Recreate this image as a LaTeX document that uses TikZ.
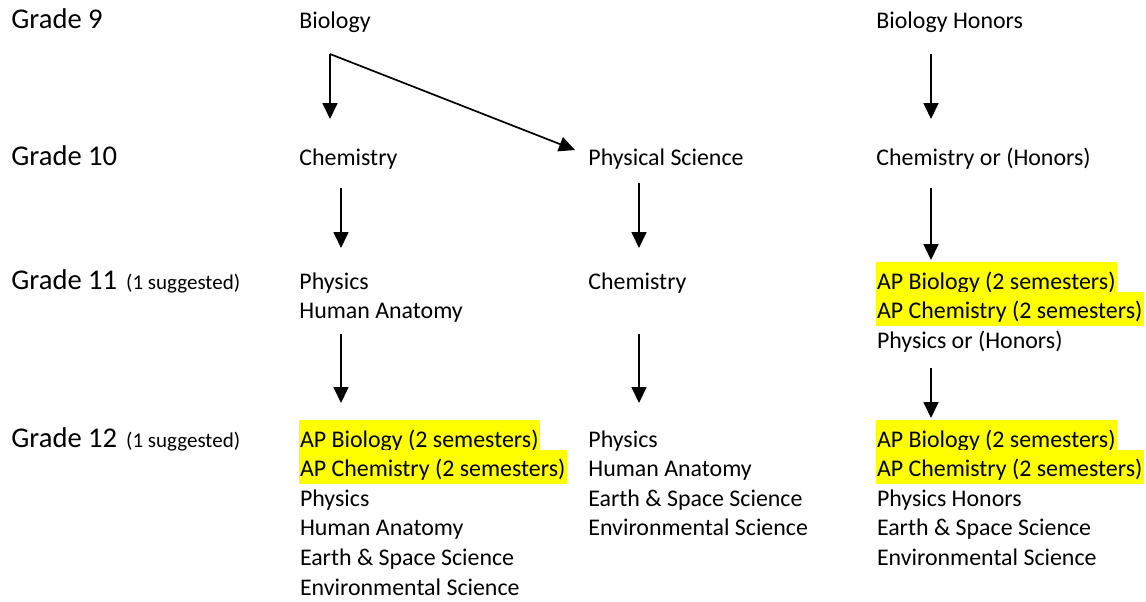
\documentclass[tikz,border=0pt]{standalone}
\usepackage{fontspec}
\setmainfont{Carlito}
\usetikzlibrary{arrows.meta,positioning}

\definecolor{marker}{RGB}{255,255,0}

\begin{document}
\begin{tikzpicture}[x=0.5pt,y=-0.5pt,>={Triangle[length=8pt,width=7.5pt]},
        grade node/.style={anchor=base west,inner sep=0pt,font=\fontsize{14.3}{17}\selectfont},
        course node/.style={anchor=base west,inner sep=0pt,font=\fontsize{11.95}{15}\selectfont},
        ap node/.style={course node,fill=marker,inner xsep=0.6pt,text height=13.5pt,text depth=3.5pt},
        next line/.style={below=14.8pt of #1.base west,anchor=base west},
        step arrow/.style={->,line width=0.85pt}]
        \useasboundingbox (0,0) rectangle (1146,601);
        % grade labels
        \node[grade node] (g9) at (11,28) {Grade 9};
        \node[grade node] (g10) at (11,165) {Grade 10};
        \node[grade node] (g11) at (11,289) {Grade 11\hspace{4.5pt}{\fontsize{10.5}{12}\selectfont(1 suggested)}};
        \node[grade node] (g12) at (11,447) {Grade 12\hspace{4.5pt}{\fontsize{10.5}{12}\selectfont(1 suggested)}};
        % grade 9
        \node[course node] (bio) at (299,28) {Biology};
        \node[course node] (bioh) at (876,28) {Biology Honors};
        % grade 10
        \node[course node] (chemA) at (299,165) {Chemistry};
        \node[course node] (physsci) at (588,165) {Physical Science};
        \node[course node] (chemC) at (876,165) {Chemistry or (Honors)};
        % grade 11
        \node[course node] (physA) at (299,289) {Physics};
        \node[course node, next line=physA] (anatA) {Human Anatomy};
        \node[course node] (chemB) at (588,289) {Chemistry};
        \node[ap node] (apbioC) at (875.4,289) {AP Biology (2 semesters)};
        \node[ap node, next line=apbioC] (apchemC) {AP Chemistry (2 semesters)};
        \node[course node, next line=apchemC, xshift=0.6pt] (physorC) {Physics or (Honors)};
        % grade 12
        \node[ap node] (apbioA2) at (298.4,447) {AP Biology (2 semesters)};
        \node[ap node, next line=apbioA2] (apchemA2) {AP Chemistry (2 semesters)};
        \node[course node, next line=apchemA2, xshift=0.6pt] (physA2) {Physics};
        \node[course node, next line=physA2] (anatA2) {Human Anatomy};
        \node[course node, next line=anatA2] (earthA2) {Earth \& Space Science};
        \node[course node, next line=earthA2] (envA2) {Environmental Science};
        \node[course node] (physB2) at (588,447) {Physics};
        \node[course node, next line=physB2] (anatB2) {Human Anatomy};
        \node[course node, next line=anatB2] (earthB2) {Earth \& Space Science};
        \node[course node, next line=earthB2] (envB2) {Environmental Science};
        \node[ap node] (apbioC2) at (875.4,447) {AP Biology (2 semesters)};
        \node[ap node, next line=apbioC2] (apchemC2) {AP Chemistry (2 semesters)};
        \node[course node, next line=apchemC2, xshift=0.6pt] (physhC2) {Physics Honors};
        \node[course node, next line=physhC2] (earthC2) {Earth \& Space Science};
        \node[course node, next line=earthC2] (envC2) {Environmental Science};
        % arrow ends
        \coordinate (bio fork) at (330,54);
        \coordinate (chemA in) at (330,119);
        \coordinate (physsci in) at (575,150);
        \coordinate (bioh out) at (931,54);
        \coordinate (chemC in) at (931,119);
        \coordinate (chemA out) at (341,188);
        \coordinate (physA in) at (341,248);
        \coordinate (physsci out) at (639,183);
        \coordinate (chemB in) at (639,248);
        \coordinate (chemC out) at (931,188);
        \coordinate (apbioC in) at (931,260);
        \coordinate (anatA out) at (341,334);
        \coordinate (apbioA2 in) at (341,403);
        \coordinate (chemB out) at (639,334);
        \coordinate (physB2 in) at (639,403);
        \coordinate (physorC out) at (931,368);
        \coordinate (apbioC2 in) at (931,418);
        \draw[step arrow] (bio fork) -- (chemA in);
        \draw[step arrow] (bio fork) -- (physsci in);
        \draw[step arrow] (bioh out) -- (chemC in);
        \draw[step arrow] (chemA out) -- (physA in);
        \draw[step arrow] (physsci out) -- (chemB in);
        \draw[step arrow] (chemC out) -- (apbioC in);
        \draw[step arrow] (anatA out) -- (apbioA2 in);
        \draw[step arrow] (chemB out) -- (physB2 in);
        \draw[step arrow] (physorC out) -- (apbioC2 in);
\end{tikzpicture}
\end{document}
